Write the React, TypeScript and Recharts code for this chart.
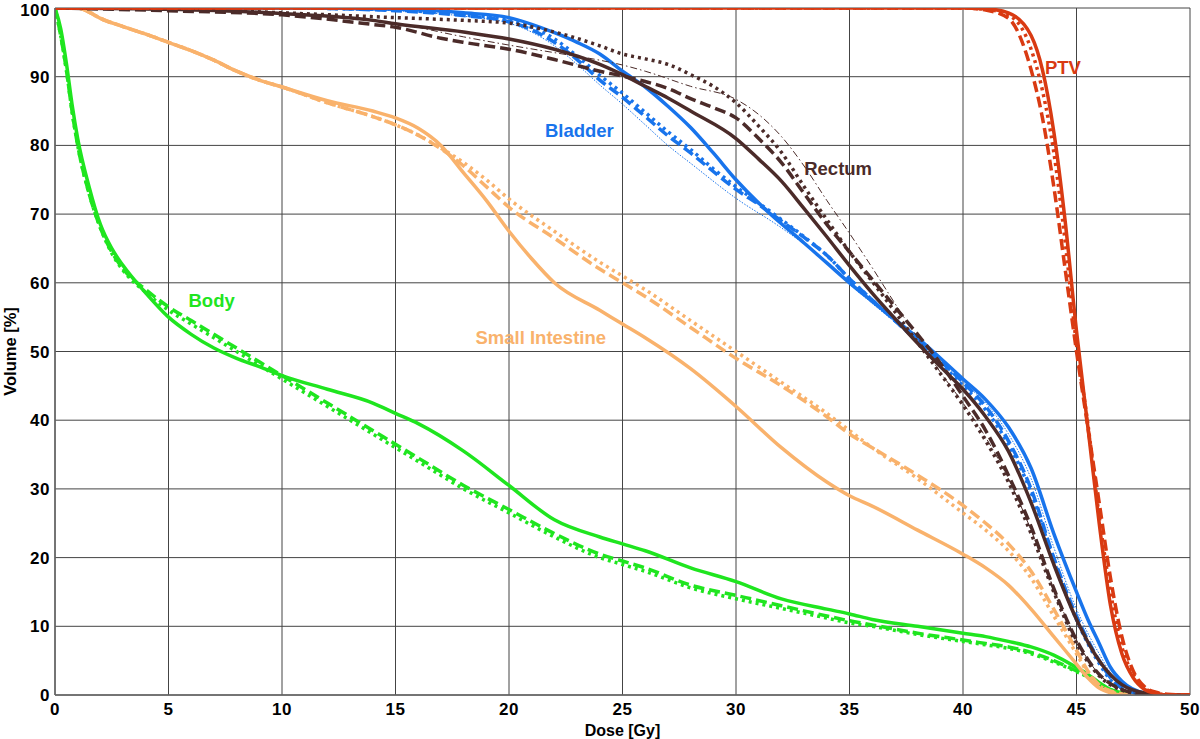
import React from 'react';
import { LineChart, Line, XAxis, YAxis, CartesianGrid, ReferenceDot } from 'recharts';

type Pt = [number, number];

// dose [Gy] / volume [%] pairs
const bodySolid: Pt[] = [[0, 100], [0.25, 97], [0.5, 92], [0.75, 86], [1, 81], [1.5, 74], [2, 68.5], [2.5, 65], [3, 62.5], [4, 58.5], [5, 55], [6, 52.5], [7, 50.5], [8, 49], [9, 47.8], [10, 46.5], [12, 44.5], [14, 42.5], [15, 41], [16, 39.5], [18, 35.5], [20, 30.5], [22, 25.5], [24, 23], [25, 22], [26, 21], [28, 18.5], [30, 16.5], [32, 14], [34, 12.5], [35, 11.8], [36, 11], [38, 10], [40, 9], [41, 8.5], [42, 7.8], [43, 7], [44, 5.8], [45, 4], [45.5, 3], [46, 1.8], [46.5, 0.8], [47, 0.3], [48, 0], [50, 0]];
const bodyDash: Pt[] = [[0, 100], [0.25, 96], [0.5, 91], [0.75, 85], [1, 80], [1.5, 73], [2, 68], [2.5, 64.5], [3, 62], [4, 59], [5, 56.5], [6, 54.5], [7, 52.5], [8, 50.5], [9, 48.5], [10, 46.5], [12, 42.5], [14, 38.5], [15, 36.5], [16, 34.5], [18, 30.5], [20, 27], [22, 23.5], [24, 20.5], [25, 19.5], [26, 18.5], [28, 16], [30, 14.5], [32, 13], [34, 11.5], [35, 10.8], [36, 10.2], [38, 9], [40, 8], [41, 7.5], [42, 7], [43, 6.2], [44, 5], [45, 3.5], [45.5, 2.7], [46, 1.6], [46.5, 0.8], [47, 0.3], [48, 0], [50, 0]];
const bodyDot: Pt[] = [[0, 100], [0.25, 96], [0.5, 91], [0.75, 85], [1, 80], [1.5, 73], [2, 68], [2.5, 64.3], [3, 61.8], [4, 58.6], [5, 56], [6, 54], [7, 52], [8, 50], [9, 48], [10, 46], [12, 42], [14, 38], [15, 36], [16, 34], [18, 30], [20, 26.5], [22, 23], [24, 20], [25, 19], [26, 18], [28, 15.6], [30, 14], [32, 12.6], [34, 11.2], [35, 10.5], [36, 10], [38, 8.8], [40, 7.8], [41, 7.3], [42, 6.8], [43, 6], [44, 4.8], [45, 3.4], [45.5, 2.6], [46, 1.5], [46.5, 0.7], [47, 0.3], [48, 0], [50, 0]];

const intestineSolid: Pt[] = [[0, 100], [1, 100], [1.5, 99.4], [2, 98.5], [3, 97.3], [4, 96.2], [5, 95], [6, 93.8], [7, 92.4], [8, 90.8], [9, 89.5], [10, 88.5], [12, 86.5], [14, 85], [15, 84], [16, 82.5], [17, 80], [18, 76], [19, 72], [20, 67.5], [21, 63.5], [22, 60], [24, 56], [25, 54], [26, 52], [28, 47.5], [30, 42], [32, 36], [34, 31], [35, 29], [36, 27.5], [38, 24], [40, 20.5], [41, 18.5], [42, 16], [43, 12.5], [44, 8.5], [45, 4.5], [45.5, 2.5], [46, 1], [46.5, 0.3], [47, 0], [50, 0]];
const intestineDash: Pt[] = [[0, 100], [1, 100], [1.5, 99.4], [2, 98.5], [3, 97.3], [4, 96.2], [5, 95], [6, 93.8], [7, 92.4], [8, 90.8], [9, 89.5], [10, 88.5], [12, 86.2], [14, 84.2], [15, 83], [16, 81.5], [17, 79.5], [18, 77], [19, 74], [20, 71], [22, 66.5], [24, 62], [25, 60], [26, 58], [28, 53.5], [30, 49], [32, 45], [34, 40.5], [35, 38], [36, 36], [38, 32], [40, 27.6], [41, 25], [42, 22], [43, 18], [44, 12.5], [45, 6.5], [45.5, 3.5], [46, 1.5], [46.5, 0.6], [47, 0.2], [48, 0], [50, 0]];
const intestineDot: Pt[] = [[0, 100], [1, 100], [1.5, 99.4], [2, 98.5], [3, 97.3], [4, 96.2], [5, 95], [6, 93.8], [7, 92.4], [8, 90.8], [9, 89.5], [10, 88.5], [12, 86.2], [14, 84.2], [15, 83], [16, 81.5], [17, 79.6], [18, 77.5], [19, 75], [20, 72.2], [22, 67.5], [24, 63], [25, 61], [26, 59], [28, 54.5], [30, 50], [32, 45.5], [34, 41], [35, 38.5], [36, 36], [38, 31.5], [40, 26.5], [41, 24], [42, 21], [43, 17], [44, 11.5], [45, 6], [45.5, 3.2], [46, 1.4], [46.5, 0.5], [47, 0.1], [48, 0], [50, 0]];

const bladderSolid: Pt[] = [[0, 100], [10, 100], [15, 99.8], [18, 99.3], [20, 98.6], [22, 96.4], [23, 95], [24, 93.3], [25, 90.8], [26, 88.5], [27, 85.7], [28, 82.6], [29, 78.9], [30, 75], [31, 71.6], [32, 68.6], [33, 65.8], [34, 62.9], [35, 60], [36, 57.3], [38, 52], [40, 46], [41, 43], [42, 39], [43, 33], [44, 23.5], [45, 15], [45.5, 11], [46, 7.5], [46.5, 4], [47, 2], [48, 0.3], [49, 0], [50, 0]];
const bladderDash: Pt[] = [[0, 100], [10, 100], [15, 99.6], [18, 98.9], [20, 98], [22, 95], [23, 92.5], [24, 89.5], [25, 87], [26, 84.2], [27, 81.4], [28, 78.9], [29, 76.2], [30, 73.6], [31, 71.4], [32, 69], [33, 66.6], [34, 64], [35, 60.6], [36, 57.5], [38, 51.5], [40, 45.5], [41, 42], [42, 37], [43, 30], [44, 20], [45, 11.5], [45.5, 8], [46, 5], [46.5, 2.5], [47, 1], [48, 0.1], [49, 0], [50, 0]];
const bladderDot: Pt[] = [[0, 100], [10, 100], [15, 99.7], [18, 99], [20, 98.2], [22, 95.5], [23, 93], [24, 90.2], [25, 87.6], [26, 84.8], [27, 82], [28, 79.4], [29, 76.6], [30, 74], [31, 71.6], [32, 69.2], [33, 66.7], [34, 64], [35, 60.6], [36, 57.5], [38, 51.5], [40, 45], [41, 41.5], [42, 36.5], [43, 29.5], [44, 19.5], [45, 11], [45.5, 7.5], [46, 4.6], [46.5, 2.2], [47, 0.9], [48, 0.1], [49, 0], [50, 0]];
const bladderThin: Pt[] = [[0, 100], [10, 100], [15, 99.6], [18, 98.8], [20, 97.8], [22, 94.5], [23, 91.8], [24, 88.8], [25, 86], [26, 83], [27, 80], [28, 77.4], [30, 72.3], [32, 68], [34, 63], [35, 59.8], [36, 57], [38, 51.5], [40, 45.5], [41, 42.5], [42, 38], [43, 31.5], [44, 21.5], [45, 12.5], [45.5, 9], [46, 6], [46.5, 3.2], [47, 1.4], [48, 0.2], [49, 0], [50, 0]];

const rectumSolid: Pt[] = [[0, 100], [5, 99.8], [10, 99.2], [14, 98.2], [15, 97.7], [18, 96.5], [20, 95.5], [22, 94], [24, 91.8], [25, 90.3], [26, 88.6], [27, 86.9], [28, 85], [30, 81], [31, 78], [32, 74.8], [33, 70.8], [34, 66.7], [35, 62.5], [36, 58.5], [37, 54.8], [38, 51.2], [39, 47.8], [40, 44.5], [41, 40.5], [42, 35.5], [43, 28], [44, 19], [45, 11], [46, 5], [47, 1.5], [48, 0.3], [49, 0], [50, 0]];
const rectumDash: Pt[] = [[0, 100], [5, 99.6], [10, 99], [14, 97.6], [15, 97.2], [17, 95.6], [18, 95], [20, 94], [22, 92.5], [24, 90.8], [25, 90.1], [26, 89.3], [27, 88.3], [28, 86.8], [29, 85.5], [30, 84], [31, 81], [32, 77.5], [33, 73], [34, 68.5], [35, 64.5], [36, 60.5], [37, 56.5], [38, 52.5], [39, 48.3], [40, 43.5], [41, 38.5], [42, 32], [43, 24.5], [44, 15.5], [45, 8], [46, 3], [47, 0.8], [48, 0.1], [49, 0], [50, 0]];
const rectumDot: Pt[] = [[0, 100], [5, 99.9], [10, 99.3], [15, 98.6], [18, 98.2], [20, 97.8], [22, 96.5], [24, 94.5], [25, 93.3], [26, 92.6], [27, 91.8], [28, 90.3], [29, 88.6], [30, 86.2], [31, 82.8], [32, 79], [33, 74], [34, 69.2], [35, 64.5], [36, 60.2], [37, 55.8], [38, 51.3], [39, 46.8], [40, 42.2], [41, 37], [42, 31], [43, 23.5], [44, 15], [45, 7.5], [46, 2.8], [47, 0.7], [48, 0.1], [49, 0], [50, 0]];
const rectumThin: Pt[] = [[0, 100], [5, 99.8], [10, 99.2], [15, 97.8], [18, 95.8], [20, 94.6], [22, 93.5], [24, 92.4], [25, 91.7], [26, 90.8], [28, 88.6], [30, 86.7], [31, 84.5], [32, 81.3], [33, 77], [34, 72], [35, 67.2], [36, 62.2], [37, 57], [38, 52], [39, 47], [40, 42.5], [41, 37.5], [42, 31.5], [43, 24], [44, 15.5], [45, 8], [46, 3], [47, 0.8], [48, 0.1], [49, 0], [50, 0]];

const ptvSolid: Pt[] = [[0, 100], [40, 100], [41, 99.9], [42, 99.3], [43, 96], [43.5, 91], [44, 82], [44.5, 69], [45, 53], [45.5, 39], [46, 25], [46.5, 13], [47, 6], [47.5, 2.5], [48, 0.8], [48.5, 0.2], [49, 0], [50, 0]];
const ptvDash: Pt[] = [[0, 100], [40, 100], [41, 99.7], [42, 98.5], [43, 91], [43.5, 84], [44, 74], [44.5, 62], [45, 50], [45.5, 39], [46, 28], [46.5, 17], [47, 8.5], [47.5, 3.5], [48, 1.2], [48.5, 0.4], [49, 0.1], [50, 0]];
const ptvDot: Pt[] = [[0, 100], [40, 100], [41, 99.8], [42, 99], [43, 94], [43.5, 88], [44, 79], [44.5, 66], [45, 51], [45.5, 39.5], [46, 26], [46.5, 15], [47, 7], [47.5, 3], [48, 1], [48.5, 0.3], [49, 0], [50, 0]];

const doseTicks = [0, 5, 10, 15, 20, 25, 30, 35, 40, 45, 50];
const volumeTicks = [0, 10, 20, 30, 40, 50, 60, 70, 80, 90, 100];

const GREEN = '#1fe51f';
const ORANGE = '#f9b26c';
const BLUE = '#1874ec';
const BROWN = '#4b2b29';
const RED = '#d93a12';

const SOLID = { strokeWidth: 3.5 };
const DASH = { strokeWidth: 3.5, strokeDasharray: '11 5' };
const DOT = { strokeWidth: 3.5, strokeDasharray: '3 4' };
const THIN_DOT = { strokeWidth: 1, strokeDasharray: '1.5 1.5' };
const THIN_DASHDOT = { strokeWidth: 1, strokeDasharray: '7 3 1.5 3' };

const series = [
  { key: 'bodyDash', pts: bodyDash, color: GREEN, style: DASH },
  { key: 'bodyDot', pts: bodyDot, color: GREEN, style: DOT },
  { key: 'bodySolid', pts: bodySolid, color: GREEN, style: SOLID },
  { key: 'intestineDash', pts: intestineDash, color: ORANGE, style: DASH },
  { key: 'intestineDot', pts: intestineDot, color: ORANGE, style: DOT },
  { key: 'intestineSolid', pts: intestineSolid, color: ORANGE, style: SOLID },
  { key: 'bladderThin', pts: bladderThin, color: BLUE, style: THIN_DOT },
  { key: 'bladderDash', pts: bladderDash, color: BLUE, style: DASH },
  { key: 'bladderDot', pts: bladderDot, color: BLUE, style: DOT },
  { key: 'bladderSolid', pts: bladderSolid, color: BLUE, style: SOLID },
  { key: 'rectumThin', pts: rectumThin, color: BROWN, style: THIN_DASHDOT },
  { key: 'rectumDash', pts: rectumDash, color: BROWN, style: DASH },
  { key: 'rectumDot', pts: rectumDot, color: BROWN, style: DOT },
  { key: 'rectumSolid', pts: rectumSolid, color: BROWN, style: SOLID },
  { key: 'ptvDash', pts: ptvDash, color: RED, style: DASH },
  { key: 'ptvDot', pts: ptvDot, color: RED, style: DOT },
  { key: 'ptvSolid', pts: ptvSolid, color: RED, style: SOLID },
];

// structure name labels, placed in data coordinates
const structureLabels = [
  { name: 'Body', dose: 6.9, volume: 57.5, color: GREEN },
  { name: 'Small Intestine', dose: 21.4, volume: 52, color: ORANGE },
  { name: 'Bladder', dose: 23.1, volume: 82.2, color: BLUE },
  { name: 'Rectum', dose: 34.5, volume: 76.7, color: BROWN },
  { name: 'PTV', dose: 44.4, volume: 91.3, color: RED },
];

const FONT = '"Liberation Sans", Arial, sans-serif';

const YLabel = (props: any) => {
  const vb = props.viewBox;
  const cx = vb.x + 10;
  const cy = vb.y + vb.height / 2;
  return (
    <text x={cx} y={cy} transform={`rotate(-90, ${cx}, ${cy})`} textAnchor="middle" dominantBaseline="central"
      fontFamily={FONT} fontWeight="bold" fontSize={16.5} fill="#000">
      Volume [%]
    </text>
  );
};

export default function App() {
  return (
    <div style={{ position: 'absolute', left: 0, top: 0, background: '#fff' }}>
      <LineChart width={1200} height={739} margin={{ top: 8, right: 10, left: 0, bottom: 0 }}>
        <CartesianGrid stroke="#444" strokeWidth={1} />
        <XAxis
          type="number"
          dataKey="dose"
          domain={[0, 50]}
          ticks={doseTicks}
          allowDataOverflow
          height={44}
          tickLine={false}
          axisLine={{ stroke: '#666', strokeWidth: 1.5 }}
          tick={{ fill: '#000', fontSize: 17, fontWeight: 'bold', fontFamily: FONT, letterSpacing: 0.5 }}
          label={{ value: 'Dose [Gy]', position: 'insideBottom', offset: 3, fill: '#000', fontSize: 16, fontWeight: 'bold', fontFamily: FONT }}
        />
        <YAxis
          type="number"
          domain={[0, 100]}
          ticks={volumeTicks}
          allowDataOverflow
          width={55}
          tickSize={3}
          tickLine={false}
          axisLine={{ stroke: '#666', strokeWidth: 1.5 }}
          tick={{ fill: '#000', fontSize: 17, fontWeight: 'bold', fontFamily: FONT, letterSpacing: 0.5 }}
          label={{ content: <YLabel /> }}
        />
        {series.map((s) => (
          <Line
            key={s.key}
            data={s.pts.map(([dose, v]) => ({ dose, v }))}
            dataKey="v"
            type="monotone"
            stroke={s.color}
            {...s.style}
            dot={false}
            activeDot={false}
            isAnimationActive={false}
          />
        ))}
        {structureLabels.map((l) => (
          <ReferenceDot
            key={l.name}
            x={l.dose}
            y={l.volume}
            r={0}
            fill="none"
            stroke="none"
            label={{ value: l.name, position: 'center', fill: l.color, fontSize: 18.5, fontWeight: 'bold', fontFamily: FONT }}
          />
        ))}
      </LineChart>
    </div>
  );
}
